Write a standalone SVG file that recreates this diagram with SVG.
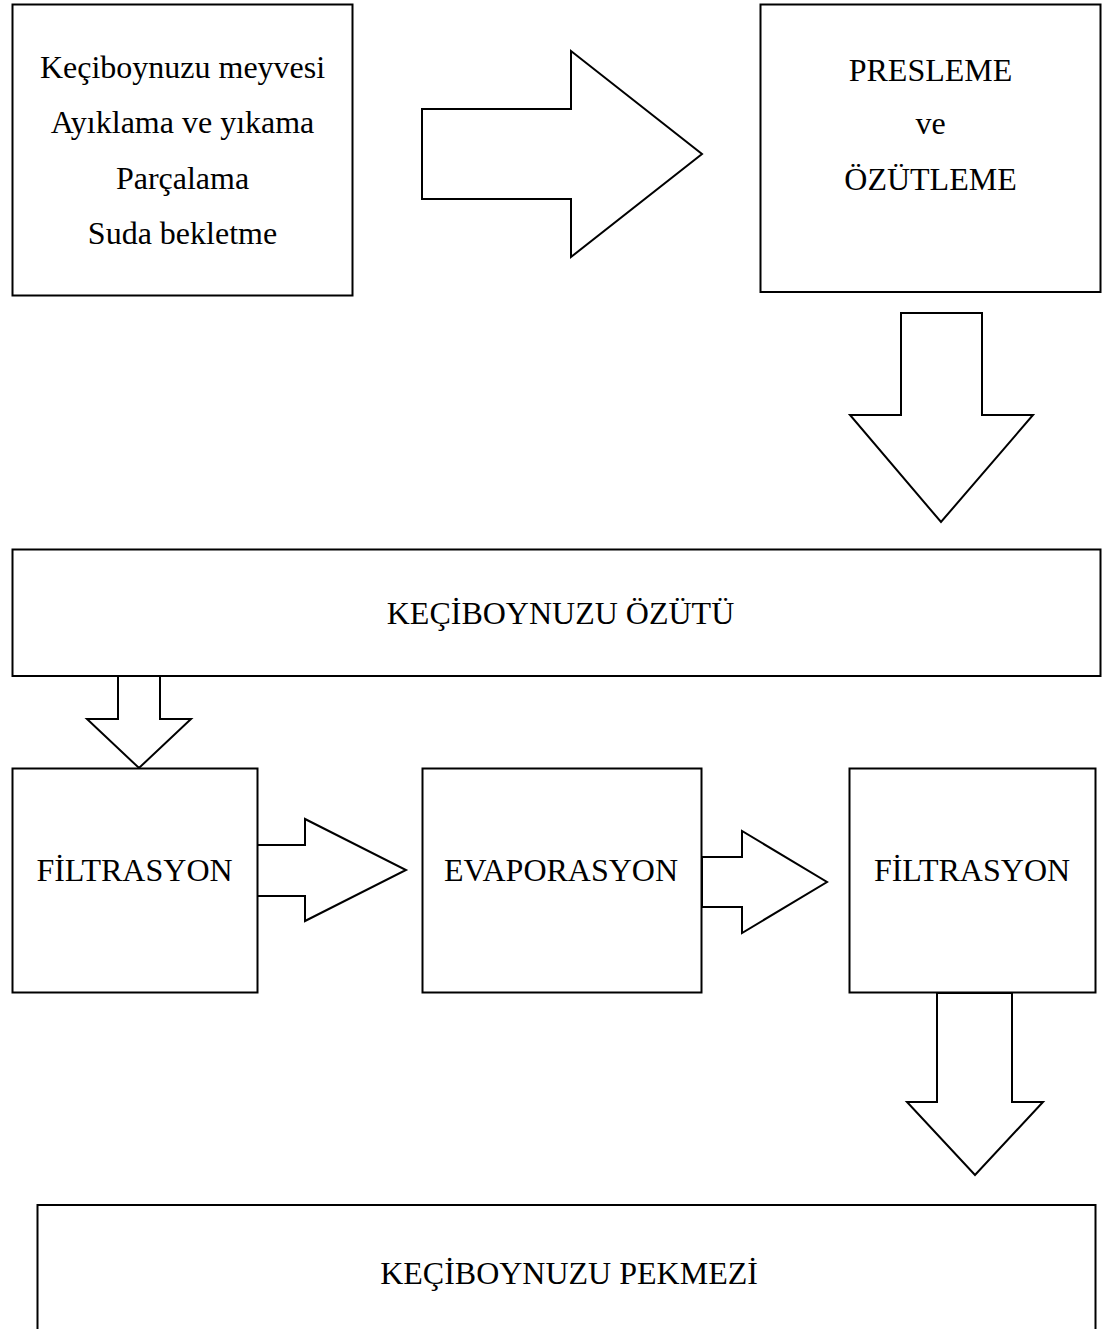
<svg xmlns="http://www.w3.org/2000/svg" width="1105" height="1329" viewBox="0 0 1105 1329">
<style>
.box{fill:#fff;stroke:#000;stroke-width:2}
.arr{fill:#fff;stroke:#000;stroke-width:2;stroke-linejoin:miter}
text{font-family:"Liberation Serif","Times New Roman",serif;font-size:32px;fill:#000;text-anchor:middle}
</style>
<rect width="1105" height="1329" fill="#fff"/>
<g id="connectors">
<polygon class="arr" points="422,109 571,109 571,51 702,154 571,257 571,199 422,199"/>
<polygon class="arr" points="901,313 982,313 982,415 1033,415 941,522 850,415 901,415"/>
<polygon class="arr" points="118,676 160,676 160,719 191,719 139,768 87,719 118,719"/>
<polygon class="arr" points="257,845 305,845 305,819 406,870 305,921 305,896 257,896"/>
<polygon class="arr" points="702,857 742,857 742,831 827,882 742,933 742,907 702,907"/>
<polygon class="arr" points="937,993 1012,993 1012,1102 1043,1102 975,1175 907,1102 937,1102"/>
</g>
<g id="n1">
<rect class="box" x="12.5" y="4.5" width="340" height="291"/>
<text x="182.5" y="78">Keçiboynuzu meyvesi</text>
<text x="182.5" y="133">Ayıklama ve yıkama</text>
<text x="182.5" y="188.5">Parçalama</text>
<text x="182.5" y="243.5">Suda bekletme</text>
</g>
<g id="n2">
<rect class="box" x="760.5" y="4.5" width="340" height="287.5"/>
<text x="930.5" y="80.5">PRESLEME</text>
<text x="930.5" y="134">ve</text>
<text x="930.5" y="189.5">ÖZÜTLEME</text>
</g>
<g id="n3">
<rect class="box" x="12.5" y="549.5" width="1088" height="126.5"/>
<text x="560.5" y="623.5">KEÇİBOYNUZU ÖZÜTÜ</text>
</g>
<g id="n4">
<rect class="box" x="12.5" y="768.5" width="245" height="224"/>
<text x="134.5" y="880.5">FİLTRASYON</text>
</g>
<g id="n5">
<rect class="box" x="422.5" y="768.5" width="279" height="224"/>
<text x="561" y="880.5">EVAPORASYON</text>
</g>
<g id="n6">
<rect class="box" x="849.5" y="768.5" width="246" height="224"/>
<text x="972" y="880.5">FİLTRASYON</text>
</g>
<g id="n7">
<rect class="box" x="37.5" y="1205" width="1058" height="140"/>
<text x="569" y="1283.5">KEÇİBOYNUZU PEKMEZİ</text>
</g>
</svg>
